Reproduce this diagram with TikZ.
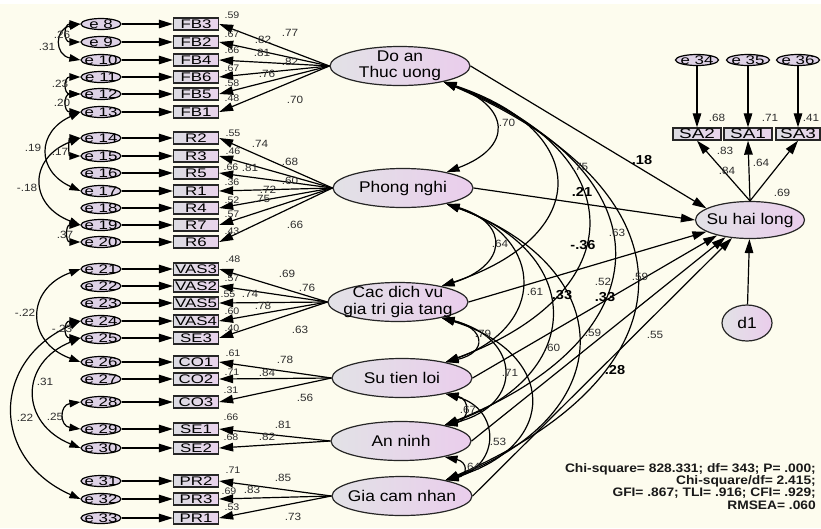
\documentclass[tikz,border=0pt]{standalone}
\usepackage{fontspec}
\setmainfont{Liberation Sans}[FakeStretch=1.12]
\newfontfamily\boxfont{Liberation Sans}[FakeStretch=1.35]
\usetikzlibrary{arrows.meta,shapes.geometric}
\definecolor{bgc}{HTML}{FDFCEE}
\definecolor{latl}{HTML}{E2E2E6}
\definecolor{latr}{HTML}{EACDEC}
\definecolor{boxl}{HTML}{DCDCE2}
\definecolor{boxr}{HTML}{E9D3EC}
\definecolor{evc}{HTML}{DED2E6}
\definecolor{numc}{HTML}{2E2E2E}
\begin{document}
\begin{tikzpicture}[x=1pt,y=-1pt,
  evar/.style={ellipse,draw=black,line width=1.2pt,fill=evc,minimum width=40pt,minimum height=11pt,inner sep=0pt},
  etxt/.style={font=\boxfont\fontsize{12.5}{12.5}\selectfont,inner sep=0pt},
  obs/.style={rectangle,draw=black!85,line width=1.3pt,left color=boxl,right color=boxr,minimum width=45pt,minimum height=12pt,inner sep=0pt,font=\boxfont\fontsize{12.5}{12.5}\selectfont},
  lat/.style={ellipse,draw=black!85,line width=1.2pt,left color=latl,right color=latr,minimum width=140pt,minimum height=39pt,inner sep=0pt},
  ltxt/.style={font=\fontsize{15.5}{16.5}\selectfont,align=center,inner sep=0pt},
  num/.style={font=\fontsize{10.5}{10.5}\selectfont,text=numc,inner sep=0pt},
  rsq/.style={font=\fontsize{9.5}{9.5}\selectfont,text=numc,inner sep=0pt},
  bnum/.style={font=\bfseries\fontsize{13}{13}\selectfont,inner sep=0pt},
  pth/.style={-{Triangle[length=14pt,width=8.5pt]},line width=1.2pt},
  cov/.style={{Triangle[length=13pt,width=8pt]}-{Triangle[length=13pt,width=8pt]},line width=1.2pt},
  ecov/.style={{Triangle[length=11pt,width=7.5pt]}-{Triangle[length=11pt,width=7.5pt]},line width=1.2pt},
]
\fill[bgc] (0,0) rectangle (821,528);
\fill[white] (0,0) rectangle (821,4);
\useasboundingbox (0,0) rectangle (821,528);

% latent variables
\node[lat] (D) at (400,66) {};
\node[lat] (P) at (403,188) {};
\node[lat] (C) at (398,302) {};
\node[lat] (S) at (402,378) {};
\node[lat] (A) at (401,441) {};
\node[lat] (G) at (402,496) {};
\node[lat,minimum width=109pt,minimum height=37pt] (SHL) at (750,220) {};
\node[lat,minimum width=50pt,minimum height=36pt] (d1) at (747,323) {};

% indicators with errors
\foreach \i/\lab/\yy in {8/FB3/24,9/FB2/42,10/FB4/60,11/FB6/77,12/FB5/94,13/FB1/112,14/R2/138,15/R3/156,16/R5/173,17/R1/191,18/R4/208,19/R7/225,20/R6/242,21/VAS3/269,22/VAS2/286,23/VAS5/303,24/VAS4/321,25/SE3/338,26/CO1/362,27/CO2/379,28/CO3/402,29/SE1/429,30/SE2/448,31/PR2/481,32/PR3/499,33/PR1/518}{
  \node[evar] (e\i) at (101,\yy) {};
  \node[etxt] at (e\i) {e \i};
  \node[obs] (b\i) at (196,\yy) {\lab};
  \draw[pth] (e\i) -- (b\i);
}

% loadings
\foreach \i in {8,...,13} \draw[pth] (D.west) -- (b\i.east);
\foreach \i in {14,...,20} \draw[pth] (P.west) -- (b\i.east);
\foreach \i in {21,...,25} \draw[pth] (C.west) -- (b\i.east);
\foreach \i in {26,27,28} \draw[pth] (S.west) -- (b\i.east);
\foreach \i in {29,30} \draw[pth] (A.west) -- (b\i.east);
\foreach \i in {31,32,33} \draw[pth] (G.west) -- (b\i.east);

% error covariances
\foreach \ea/\eb/\bl/\dy in {8/9/17/0,8/10/26/5,11/12/17/0,12/13/17/0,13/17/44/20,14/15/12/0,14/19/52/20,19/20/15/0,21/26/55/20,24/25/17/0,24/32/90/40,25/30/61/25,28/29/21/3}
  \draw[ecov] (e\ea.west) .. controls +(-\bl,\dy) and +(-\bl,-\dy) .. (e\eb.west);

% latent covariances
\foreach \u/\v/\cc/\dd in {D/P/67/25,D/C/150/50,D/S/190/70,D/A/225/90,D/G/255/110,P/C/65/20,P/S/100/35,P/A/140/50,P/G/175/65,C/S/43/10,C/A/80/20,C/G/115/35,S/A/25/5,S/G/55/15,A/G/23/5}
  \draw[cov] (\u.-20) .. controls +(\cc,\dd) and +(\cc,-\dd) .. (\v.20);

% structural paths
\draw[pth] (D.east) -- (SHL.165);
\draw[pth] (P.east) -- (SHL.180);
\draw[pth] (C.east) -- (SHL.195);
\draw[pth] (S.east) -- (SHL.205);
\draw[pth] (A.east) -- (SHL.215);
\draw[pth] (G.east) -- (SHL.225);

% satisfaction indicators
\node[obs,minimum width=48pt,font=\boxfont\fontsize{14}{14}\selectfont] (sa2) at (697,134) {SA2};
\node[obs,minimum width=48pt,font=\boxfont\fontsize{14}{14}\selectfont] (sa1) at (748,134) {SA1};
\node[obs,minimum width=44pt,font=\boxfont\fontsize{14}{14}\selectfont] (sa3) at (798,134) {SA3};
\node[evar,minimum width=43pt] (e34) at (697,60) {};
\node[etxt] at (e34) {e 34};
\node[evar,minimum width=43pt] (e35) at (748,60) {};
\node[etxt] at (e35) {e 35};
\node[evar,minimum width=43pt] (e36) at (798,60) {};
\node[etxt] at (e36) {e 36};
\draw[pth] (e34) -- (sa2);
\draw[pth] (e35) -- (sa1);
\draw[pth] (e36) -- (sa3);
\draw[pth] (SHL.north) -- (sa2.south);
\draw[pth] (SHL.north) -- (sa1.south);
\draw[pth] (SHL.north) -- (sa3.south);
\draw[pth] (d1) -- (SHL);

% latent texts
\node[ltxt] at (D) {Do an\\Thuc uong};
\node[ltxt] at (P) {Phong nghi};
\node[ltxt] at (C) {Cac dich vu\\gia tri gia tang};
\node[ltxt] at (S) {Su tien loi};
\node[ltxt] at (A) {An ninh};
\node[ltxt] at (G) {Gia cam nhan};
\node[ltxt] at (SHL) {Su hai long};
\node[ltxt] at (d1) {d1};

% R squared labels
\foreach \v/\xx/\yy in {.59/232/15,.67/232/34,.66/232/50,.67/232/68,.58/232/83,.48/232/98,
  .55/233/133,.46/233/151,.66/231/167,.36/232/182,.52/232/200,.57/232/214,.43/232/231,
  .48/233/259,.57/232/278,.55/228/294,.60/232/311,.40/232/328,
  .61/233/353,.71/232/372,.31/231/390,.66/231/417,.68/231/437,
  .71/233/470,.69/229/491,.53/232/507}
  \node[rsq] at (\xx,\yy) {\v};

% loading labels
\foreach \v/\xx/\yy in {.77/290/33,.82/263/40,.81/262/53,.82/290/62,.76/267/74,.70/295/100,
  .74/260/144,.68/290/162,.81/250/168,.60/290/181,.72/268/190,.75/262/199,.66/295/225,
  .69/287/274,.76/307/288,.74/250/294,.78/263/306,.63/300/330,
  .78/285/360,.84/267/373,.56/305/398,.81/283/425,.82/267/437,
  .85/283/478,.83/252/490,.73/293/517}
  \node[num] at (\xx,\yy) {\v};

% covariance labels
\foreach \v/\xx/\yy in {.70/507/123,.64/500/244,.79/483/334,.67/468/410,.64/472/467,.53/498/442,
  .71/510/373,.60/552/348,.59/593/333,.55/655/335,.61/535/292,.52/603/282,.59/640/277,.63/617/233,.75/580/167}
  \node[num] at (\xx,\yy) {\v};

% error covariance labels
\foreach \v/\xx/\yy in {.26/62/35,.31/47/47,.23/60/84,.20/62/103,.19/33/148,.17/60/152,-.18/27/188,.37/65/235,
  -.22/25/313,-.23/62/329,.31/45/382,.22/25/418,.25/55/417}
  \node[num] at (\xx,\yy) {\v};

% structural labels
\foreach \v/\xx/\yy in {.18/642/160,.21/582/192,-.36/583/245,.33/562/295,.33/605/297,.28/615/370}
  \node[bnum] at (\xx,\yy) {\v};

% SA labels
\node[num] at (717,118) {.68};
\node[num] at (770,118) {.71};
\node[num] at (811,118) {.41};
\node[num] at (725,151) {.83};
\node[num] at (727,171) {.84};
\node[num] at (761,163) {.64};
\node[num] at (782,193) {.69};

% fit
\node[anchor=north east,align=right,font=\bfseries\fontsize{12.3}{12.4}\selectfont,text=black!90,inner sep=0pt] (fit) at (816,463)
 {Chi-square= 828.331; df= 343; P= .000;\\Chi-square/df= 2.415;\\GFI= .867; TLI= .916; CFI= .929;\\RMSEA= .060};
\end{tikzpicture}
\end{document}
